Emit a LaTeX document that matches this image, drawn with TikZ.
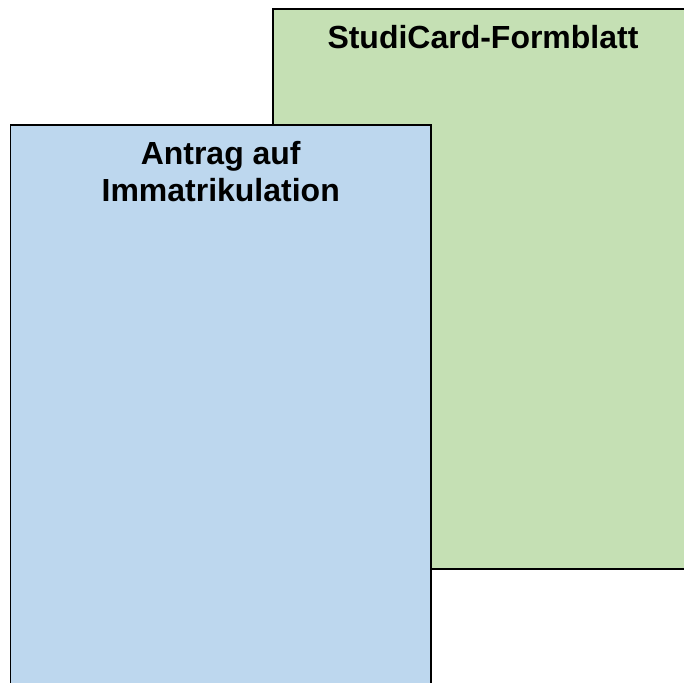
\documentclass[tikz,border=0pt]{standalone}
\usepackage{fontspec}
\setmainfont{Liberation Sans}
\usepackage{xcolor}
\usepackage{tikz}
\usetikzlibrary{positioning}

\definecolor{sheetgreen}{HTML}{C5E0B4}
\definecolor{sheetblue}{HTML}{BDD7EE}

\begin{document}
\begin{tikzpicture}
    \tikzset{
        sheet/.style={draw=black, line width=1.1pt, anchor=north west, inner sep=0pt},
        title/.style={font=\bfseries\fontsize{18.2}{21}\selectfont, align=center, inner sep=0pt}
    }
    \useasboundingbox (0,0) rectangle (13.68,-13.64);

    % StudiCard sheet (behind)
    \node[sheet, fill=sheetgreen, minimum width=8.6cm, minimum height=11.2cm] (studicard) at (5.44,-0.16) {};
    \node[title, below=0.34cm of studicard.north, xshift=-0.1cm] (studicardtitle) {StudiCard-Formblatt};

    % Antrag sheet (front)
    \node[sheet, fill=sheetblue, minimum width=8.41cm, minimum height=11.4cm] (antrag) at (0.19,-2.48) {};
    \node[title, below=0.34cm of antrag.north] (antragtitle) {Antrag auf\\Immatrikulation};
\end{tikzpicture}
\end{document}
